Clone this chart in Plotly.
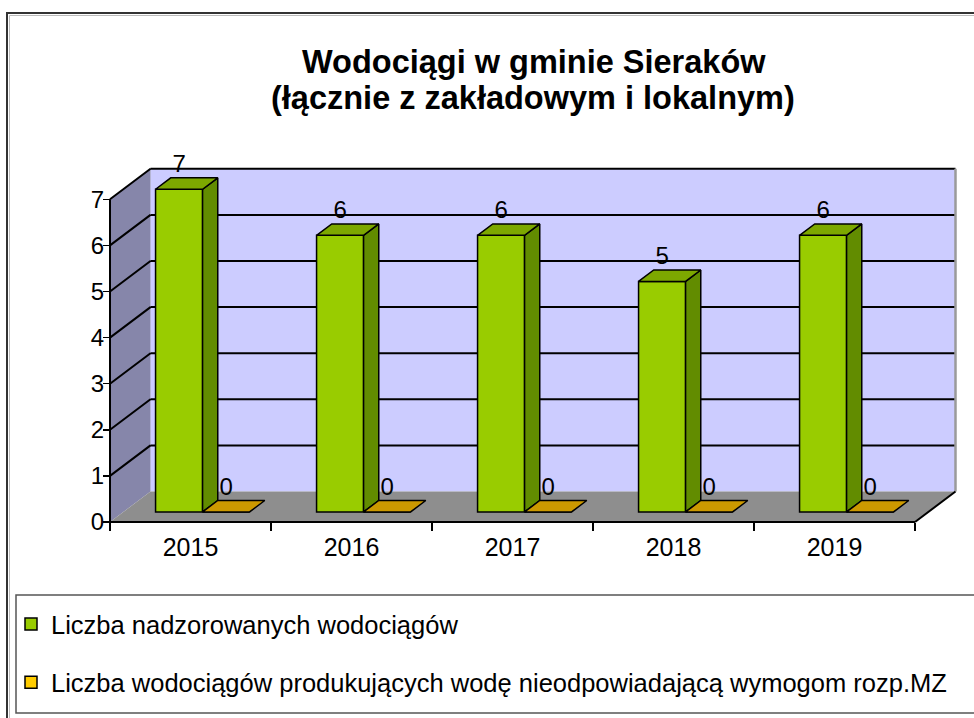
import plotly.graph_objects as go

# ---------------- data ----------------
years = ["2015", "2016", "2017", "2018", "2019"]
supervised = [7, 6, 6, 5, 6]          # Liczba nadzorowanych wodociągów
non_compliant = [0, 0, 0, 0, 0]       # Liczba wodociągów produkujących wodę nieodpowiadającą wymogom
y_ticks = [0, 1, 2, 3, 4, 5, 6, 7]
series_names = ["Liczba nadzorowanych wodociągów",
                "Liczba wodociągów produkujących wodę nieodpowiadającą wymogom rozp.MZ"]
title_line1 = "Wodociągi w gminie Sieraków"
title_line2 = "(łącznie z zakładowym i lokalnym)"

# ---------------- geometry / style ----------------
W, H = 974, 718
PX_X = 161.0      # pixels per category
PX_Y = 46.1       # pixels per unit
LEFT_PX = 110.0   # front-left corner of the floor
ZERO_PY = 522.0   # y=0 on front plane
X0 = -0.5 - LEFT_PX / PX_X
X1 = X0 + W / PX_X
Y1 = ZERO_PY / PX_Y
Y0 = -(H - ZERO_PY) / PX_Y

DX = 40.5 / PX_X      # full depth offset (x)
DY = 30.5 / PX_Y      # full depth offset (y)
D1, D2 = 0.33, 0.705  # bar depth range
BW = 0.292            # bar width
G_OFF = -0.217        # green bar offset from category centre
O_OFF = G_OFF + BW    # orange bar offset

n = len(years)
idx = list(range(n))
xl_edge, xr_edge = -0.5, n - 0.5
ymax = max(y_ticks)

GREEN, GREEN_SIDE, GREEN_TOP = "#99CC00", "#628C00", "#7DA800"
ORANGE, ORANGE_TOP = "#FFCC00", "#CC9900"
BACK_WALL, LEFT_WALL, FLOOR = "#CCCCFF", "#8686AA", "#8E8E8E"
FONT = "Liberation Sans, Arial, sans-serif"

def path(pts):
    return "M " + " L ".join(f"{x:.5f},{y:.5f}" for x, y in pts) + " Z"

def seg(p, q):
    return f"M {p[0]:.5f},{p[1]:.5f} L {q[0]:.5f},{q[1]:.5f}"

shapes = []
# walls and floor
shapes.append(dict(type="path", xref="x", yref="y", layer="below", line=dict(width=0),
                   fillcolor=BACK_WALL,
                   path=path([(xl_edge + DX, DY), (xr_edge + DX, DY),
                              (xr_edge + DX, ymax + DY), (xl_edge + DX, ymax + DY)])))
shapes.append(dict(type="path", xref="x", yref="y", layer="below", line=dict(width=0),
                   fillcolor=LEFT_WALL,
                   path=path([(xl_edge, 0), (xl_edge + DX, DY),
                              (xl_edge + DX, ymax + DY), (xl_edge, ymax)])))
shapes.append(dict(type="path", xref="x", yref="y", layer="below", line=dict(width=0),
                   fillcolor=FLOOR,
                   path=path([(xl_edge, 0), (xr_edge, 0), (xr_edge + DX, DY), (xl_edge + DX, DY)])))
# gridlines on back and left walls
for v in y_ticks[1:]:
    shapes.append(dict(type="path", xref="x", yref="y", layer="below",
                       line=dict(color="black", width=2),
                       path=seg((xl_edge, v), (xl_edge + DX, v + DY)) + " " +
                            seg((xl_edge + DX, v + DY), (xr_edge + DX, v + DY))))
# edges
shapes.append(dict(type="path", xref="x", yref="y", layer="below",
                   line=dict(color="#9A9A9A", width=2.5),
                   path=seg((xr_edge + DX, DY), (xr_edge + DX, ymax + DY))))
shapes.append(dict(type="path", xref="x", yref="y", layer="below",
                   line=dict(color="black", width=2),
                   path=seg((xl_edge, 0), (xl_edge, ymax))))
shapes.append(dict(type="path", xref="x", yref="y", layer="below",
                   line=dict(color="black", width=2),
                   path=seg((xl_edge, 0), (xr_edge, 0)) + " " +
                        seg((xr_edge, 0), (xr_edge + DX, DY))))
# outer chart border
shapes.append(dict(type="rect", xref="paper", yref="paper",
                   x0=7 / W, x1=1.02, y0=-0.02, y1=1 - 13 / H,
                   line=dict(color="#333333", width=2), fillcolor="rgba(0,0,0,0)"))
shapes.append(dict(type="rect", xref="paper", yref="paper",
                   x0=9.5 / W, x1=1.02, y0=-0.02, y1=1 - 15.5 / H,
                   line=dict(color="#BBBBBB", width=1), fillcolor="rgba(0,0,0,0)"))
# legend box
shapes.append(dict(type="rect", xref="paper", yref="paper",
                   x0=16 / W, x1=1.02, y0=1 - 713 / H, y1=1 - 595 / H,
                   line=dict(color="#555555", width=1.5), fillcolor="white"))

fig = go.Figure()

b1 = D1 * DY
dd = D2 - D1

# front faces
fig.add_trace(go.Bar(x=idx, y=supervised, base=[b1] * n, offset=G_OFF, width=BW,
                     marker=dict(color=GREEN, line=dict(color="black", width=1.5)),
                     name=series_names[0], legendgroup="g1", hoverinfo="skip"))
fig.add_trace(go.Bar(x=idx, y=non_compliant, base=[b1] * n, offset=O_OFF, width=BW,
                     marker=dict(color=ORANGE, line=dict(color="black", width=1.5)),
                     name=series_names[1], legendgroup="g2", hoverinfo="skip"))

def faces(values, off, side=True):
    sx, sy, tx, ty = [], [], [], []
    for i, v in zip(idx, values):
        xl = i + off
        xr = xl + BW
        top = b1 + v
        if side:
            sx += [xr, xr + dd * DX, xr + dd * DX, xr, xr, None]
            sy += [b1, b1 + dd * DY, top + dd * DY, top, b1, None]
        tx += [xl, xr, xr + dd * DX, xl + dd * DX, xl, None]
        ty += [top, top, top + dd * DY, top + dd * DY, top, None]
    return sx, sy, tx, ty

sx, sy, tx, ty = faces(supervised, G_OFF)
fig.add_trace(go.Scatter(x=sx, y=sy, mode="lines", fill="toself", fillcolor=GREEN_SIDE,
                         line=dict(color="black", width=1.5), showlegend=False, hoverinfo="skip"))
fig.add_trace(go.Scatter(x=tx, y=ty, mode="lines", fill="toself", fillcolor=GREEN_TOP,
                         line=dict(color="black", width=1.5), showlegend=False, hoverinfo="skip"))
_, _, tx2, ty2 = faces(non_compliant, O_OFF, side=False)
fig.add_trace(go.Scatter(x=tx2, y=ty2, mode="lines", fill="toself", fillcolor=ORANGE_TOP,
                         line=dict(color="black", width=1.5), showlegend=False, hoverinfo="skip"))

# data labels
for vals, off in ((supervised, G_OFF), (non_compliant, O_OFF)):
    fig.add_trace(go.Scatter(
        x=[i + off + BW / 2 for i in idx],
        y=[b1 + v + dd * DY for v in vals],
        mode="text", text=[str(v) for v in vals], textposition="top center",
        textfont=dict(family=FONT, size=24, color="black"),
        showlegend=False, hoverinfo="skip", cliponaxis=False))

fig.update_layout(
    width=W, height=H, autosize=False,
    margin=dict(l=0, r=0, t=0, b=0, pad=0),
    paper_bgcolor="white", plot_bgcolor="white",
    barmode="overlay",
    shapes=shapes,
    font=dict(family=FONT, color="black"),
    showlegend=True,
    legend=dict(x=11 / W, y=1 - 601 / H, xanchor="left", yanchor="top",
                bgcolor="rgba(0,0,0,0)", borderwidth=0,
                font=dict(family=FONT, size=25.5, color="black"),
                tracegroupgap=22, traceorder="grouped"),
    xaxis=dict(range=[X0, X1], anchor="free", position=(H - ZERO_PY) / H,
               tickvals=idx, ticktext=years, ticks="", showgrid=False, zeroline=False,
               showline=False, tickfont=dict(family=FONT, size=25, color="black"),
               ticklabelstandoff=8,
               minor=dict(tickvals=[i - 0.5 for i in range(n + 1)], ticks="outside",
                          ticklen=8, tickwidth=1.5, tickcolor="black", showgrid=False),
               fixedrange=True, automargin=False),
    yaxis=dict(range=[Y0, Y1], anchor="free", position=LEFT_PX / W,
               tickvals=y_ticks, ticks="outside", ticklen=7, tickwidth=1.5, tickcolor="black",
               showgrid=False, zeroline=False, showline=False,
               tickfont=dict(family=FONT, size=24, color="black"),
               ticklabelstandoff=-6,
               fixedrange=True, automargin=False),
    annotations=[
        dict(text=f"<b>{title_line1}</b>", x=534 / W, y=1 - 62 / H, xref="paper", yref="paper",
             xanchor="center", yanchor="middle", showarrow=False,
             font=dict(family=FONT, size=32.5, color="black")),
        dict(text=f"<b>{title_line2}</b>", x=533 / W, y=1 - 98 / H, xref="paper", yref="paper",
             xanchor="center", yanchor="middle", showarrow=False,
             font=dict(family=FONT, size=32.5, color="black")),
    ],
)

fig.write_html("out.html", config={"displayModeBar": False, "staticPlot": True},
               post_script="document.body.style.margin='0';document.body.style.overflow='hidden';")
